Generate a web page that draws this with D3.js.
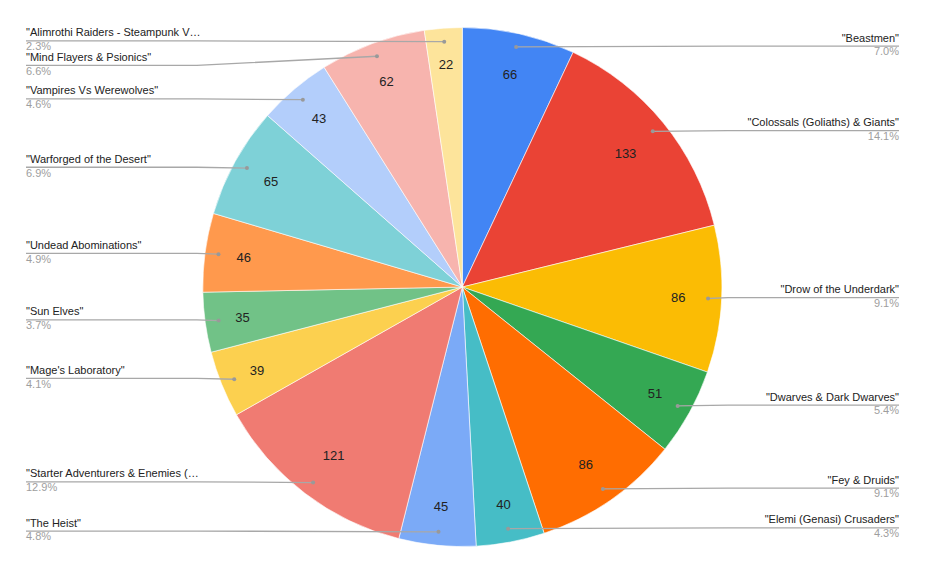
<!DOCTYPE html>
<html>
<head>
<meta charset="utf-8">
<script src="https://cdn.jsdelivr.net/npm/d3@7"></script>
<style>
  body { margin: 0; background: #fff; }
  text { font-family: "Liberation Sans", Arial, sans-serif; }
</style>
</head>
<body>
<div id="chart"></div>
<script>
// slices, clockwise from 12 o'clock
var names = [
  "\"Beastmen\"",
  "\"Colossals (Goliaths) & Giants\"",
  "\"Drow of the Underdark\"",
  "\"Dwarves & Dark Dwarves\"",
  "\"Fey & Druids\"",
  "\"Elemi (Genasi) Crusaders\"",
  "\"The Heist\"",
  "\"Starter Adventurers & Enemies (\u2026",
  "\"Mage's Laboratory\"",
  "\"Sun Elves\"",
  "\"Undead Abominations\"",
  "\"Warforged of the Desert\"",
  "\"Vampires Vs Werewolves\"",
  "\"Mind Flayers & Psionics\"",
  "\"Alimrothi Raiders - Steampunk V\u2026"
];
var values = [66, 133, 86, 51, 86, 40, 45, 121, 39, 35, 46, 65, 43, 62, 22];
var colors = ["#4285f4", "#ea4335", "#fbbc04", "#34a853", "#ff6d01", "#46bdc6",
              "#7baaf7", "#f07b72", "#fcd04f", "#71c287", "#ff994d", "#7ed1d7",
              "#b3cefb", "#f7b4ae", "#fde49b"];

var width = 926, height = 568;
var cx = 462.3, cy = 287, R = 259.5;

var svg = d3.select("#chart").append("svg")
            .attr("width", width)
            .attr("height", height);

var total = d3.sum(values);
var data = values.map(function(v, i) {
  return {name: names[i], value: v, color: colors[i]};
});

var pie = d3.pie().sort(null).value(function(d) { return d.value; });
var arcs = pie(data);

var arc = d3.arc().innerRadius(0).outerRadius(R);
var dotArc = d3.arc().innerRadius(R * 0.948).outerRadius(R * 0.948);

// small slices get their number a bit further out
function valuePos(d) {
  var a = d.endAngle - d.startAngle,
      r = R * (0.87 - 0.065 * a);
  return d3.arc().innerRadius(r).outerRadius(r).centroid(d);
}

var g = svg.append("g")
           .attr("transform", "translate(" + cx + "," + cy + ")");

g.selectAll("path.slice")
 .data(arcs)
 .enter()
 .append("path")
 .attr("class", "slice")
 .attr("d", arc)
 .style("fill", function(d) { return d.data.color; })
 .style("stroke", "#fff")
 .style("stroke-width", 0.6);

g.selectAll("text.value")
 .data(arcs)
 .enter()
 .append("text")
 .attr("class", "value")
 .attr("transform", function(d) {
   return "translate(" + valuePos(d) + ")";
 })
 .attr("text-anchor", "middle")
 .attr("dy", "0.35em")
 .style("font-size", "13px")
 .style("fill", "#222")
 .text(function(d) { return d.data.value; });

// legend labels: right half goes to the right, left half to the left
var labels = arcs.map(function(d) {
  var c = dotArc.centroid(d);
  var mid = (d.startAngle + d.endAngle) / 2;
  return {d: d, dx: c[0] + cx, dy: c[1] + cy, right: mid < Math.PI, y: c[1] + cy - 0.8};
});

// push labels apart so they don't overlap
var gap = 24.5;
[true, false].forEach(function(side) {
  var s = labels.filter(function(l) { return l.right === side; })
                .sort(function(a, b) { return a.dy - b.dy; });
  for (var i = 1; i < s.length; i++) {
    if (s[i].y < s[i-1].y + gap) s[i].y = s[i-1].y + gap;
  }
});

var leftX = 26, rightX = 899, labelW = 171;

var lg = svg.append("g");

lg.selectAll("path.leader")
  .data(labels)
  .enter()
  .append("path")
  .attr("class", "leader")
  .attr("d", function(l) {
    var x0 = l.right ? rightX : leftX,
        x1 = l.right ? rightX - labelW : leftX + labelW;
    if ((l.right && l.dx > x1) || (!l.right && l.dx < x1)) x1 = l.dx;
    return "M" + x0 + "," + l.y + "L" + x1 + "," + l.y + "L" + l.dx + "," + l.dy;
  })
  .style("fill", "none")
  .style("stroke", "#a8a8a8")
  .style("stroke-width", 1.3);

lg.selectAll("circle.dot")
  .data(labels)
  .enter()
  .append("circle")
  .attr("class", "dot")
  .attr("cx", function(l) { return l.dx; })
  .attr("cy", function(l) { return l.dy; })
  .attr("r", 2)
  .style("fill", "#999");

lg.selectAll("text.name")
  .data(labels)
  .enter()
  .append("text")
  .attr("class", "name")
  .attr("x", function(l) { return l.right ? rightX : leftX; })
  .attr("y", function(l) { return l.y - 4.5; })
  .attr("text-anchor", function(l) { return l.right ? "end" : "start"; })
  .style("font-size", "11px")
  .style("fill", "#222")
  .text(function(l) { return l.d.data.name; });

lg.selectAll("text.pct")
  .data(labels)
  .enter()
  .append("text")
  .attr("class", "pct")
  .attr("x", function(l) { return l.right ? rightX : leftX; })
  .attr("y", function(l) { return l.y + 9.3; })
  .attr("text-anchor", function(l) { return l.right ? "end" : "start"; })
  .style("font-size", "11px")
  .style("fill", "#9e9e9e")
  .text(function(l) { return d3.format(".1%")(l.d.data.value / total); });
</script>
</body>
</html>
